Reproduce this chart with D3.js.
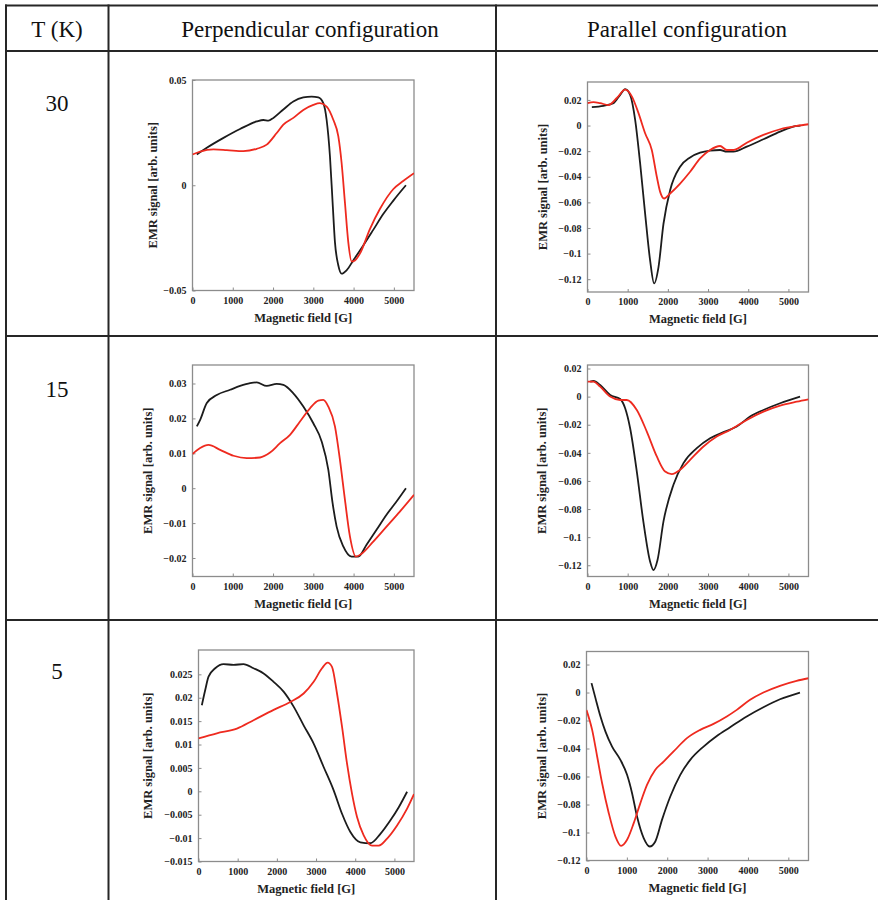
<!DOCTYPE html>
<html>
<head>
<meta charset="utf-8">
<script src="https://cdn.jsdelivr.net/npm/d3@7"></script>
<style>
  html, body { margin: 0; padding: 0; background: #fff; }
  svg { display: block; }
</style>
</head>
<body>
<svg id="chart" width="878" height="900"></svg>
<script>
// ---------------- DATA ----------------
const temperatures = ["30", "15", "5"];
const columnTitles = ["T (K)", "Perpendicular configuration", "Parallel configuration"];
const xTicks = [0, 1000, 2000, 3000, 4000, 5000];
const xLabel = "Magnetic field [G]";
const yLabel = "EMR signal [arb. units]";

// 30 K, perpendicular
const t30PerpBlackX = [107, 355, 770, 1180, 1595, 1760, 1885, 2008, 2256, 2504, 2752, 2959, 3124, 3248, 3331, 3413, 3479, 3537, 3620, 3702, 3826, 3992, 4240, 4488, 4736, 4983, 5300];
const t30PerpBlackY = [0.0146, 0.0178, 0.0225, 0.0267, 0.0303, 0.031, 0.0307, 0.032, 0.036, 0.0398, 0.0417, 0.0421, 0.0417, 0.039, 0.031, 0.0138, -0.0082, -0.027, -0.038, -0.042, -0.0404, -0.0357, -0.0286, -0.0212, -0.0137, -0.0074, 0.0];
const t30PerpRedX = [0, 190, 520, 851, 1264, 1595, 1843, 2091, 2256, 2504, 2752, 3000, 3165, 3331, 3496, 3620, 3702, 3785, 3868, 3950, 4033, 4157, 4405, 4653, 4983, 5231, 5500];
const t30PerpRedY = [0.0146, 0.016, 0.017, 0.0167, 0.0162, 0.0173, 0.0193, 0.0248, 0.0288, 0.032, 0.0358, 0.0382, 0.039, 0.0374, 0.0311, 0.0233, 0.0107, -0.0082, -0.027, -0.0362, -0.0357, -0.0325, -0.0208, -0.0113, -0.0019, 0.002, 0.0057];
const t30PerpYTicks = [-0.05, 0, 0.05];

// 30 K, parallel
const t30ParBlackX = [108, 398, 647, 813, 937, 1061, 1186, 1310, 1434, 1559, 1658, 1766, 1891, 2056, 2305, 2554, 2803, 3051, 3300, 3466, 3632, 3964, 4378, 4793, 5207, 5300];
const t30ParBlackY = [0.0144, 0.0154, 0.0175, 0.024, 0.0285, 0.024, 0.0045, -0.0296, -0.0688, -0.1055, -0.1233, -0.1107, -0.0767, -0.0505, -0.0322, -0.0249, -0.0212, -0.0196, -0.0191, -0.0204, -0.0204, -0.0165, -0.0107, -0.0047, -0.0003, 0.0];
const t30ParRedX = [0, 149, 315, 522, 730, 937, 1103, 1269, 1434, 1600, 1725, 1808, 1907, 2056, 2305, 2554, 2803, 3051, 3300, 3466, 3632, 3964, 4378, 4793, 5207, 5500];
const t30ParRedY = [0.0175, 0.0183, 0.0175, 0.016, 0.0215, 0.028, 0.0228, 0.0097, -0.006, -0.0191, -0.04, -0.0518, -0.057, -0.0531, -0.0453, -0.0361, -0.0257, -0.0191, -0.016, -0.0191, -0.0191, -0.0134, -0.0073, -0.0029, -0.0003, 0.001];
const t30ParYTicks = [-0.12, -0.1, -0.08, -0.06, -0.04, -0.02, 0, 0.02];

// 15 K, perpendicular
const t15PerpBlackX = [107, 190, 355, 603, 934, 1182, 1430, 1595, 1843, 2091, 2256, 2504, 2752, 3000, 3207, 3372, 3479, 3579, 3744, 3950, 4116, 4322, 4570, 4818, 5066, 5300];
const t15PerpBlackY = [0.0177, 0.0196, 0.0244, 0.0267, 0.0282, 0.0293, 0.0301, 0.0303, 0.0293, 0.0299, 0.0296, 0.0272, 0.0234, 0.0186, 0.0134, 0.0053, -0.0043, -0.011, -0.0167, -0.0196, -0.0196, -0.0162, -0.0119, -0.0076, -0.0038, 0.0];
const t15PerpRedX = [0, 190, 397, 686, 1017, 1347, 1678, 1926, 2174, 2421, 2669, 2917, 3124, 3248, 3372, 3537, 3661, 3785, 3909, 4058, 4198, 4488, 4818, 5149, 5500];
const t15PerpRedY = [0.0098, 0.0115, 0.0124, 0.011, 0.0093, 0.0086, 0.0088, 0.0102, 0.0129, 0.0153, 0.0191, 0.0229, 0.0251, 0.0253, 0.0234, 0.0177, 0.0081, -0.0033, -0.0138, -0.0196, -0.0188, -0.0153, -0.011, -0.0067, -0.0019];
const t15PerpYTicks = [-0.02, -0.01, 0, 0.01, 0.02, 0.03];

// 15 K, parallel
const t15ParBlackX = [66, 149, 315, 564, 813, 937, 1061, 1227, 1393, 1559, 1642, 1741, 1891, 2139, 2388, 2720, 3051, 3383, 3715, 4046, 4378, 4793, 5290];
const t15ParBlackY = [0.0107, 0.0111, 0.0083, 0.0012, -0.0017, -0.0083, -0.0225, -0.0533, -0.0895, -0.1175, -0.1235, -0.1165, -0.0888, -0.0627, -0.0473, -0.0367, -0.0296, -0.0253, -0.0213, -0.0142, -0.0095, -0.0047, 0.0];
const t15ParRedX = [0, 149, 315, 564, 813, 978, 1227, 1476, 1725, 1932, 2098, 2305, 2554, 2886, 3217, 3549, 3964, 4378, 4793, 5207, 5500];
const t15ParRedY = [0.0107, 0.0107, 0.0071, 0.0, -0.0024, -0.0024, -0.0095, -0.0249, -0.0426, -0.0533, -0.0551, -0.0521, -0.045, -0.0355, -0.0284, -0.0237, -0.0166, -0.0107, -0.0064, -0.0036, -0.0019];
const t15ParYTicks = [-0.12, -0.1, -0.08, -0.06, -0.04, -0.02, 0, 0.02];

// 5 K, perpendicular
const t5PerpBlackX = [85, 170, 256, 426, 639, 894, 1150, 1405, 1661, 1917, 2172, 2428, 2683, 2939, 3194, 3450, 3663, 3876, 4131, 4387, 4642, 4898, 5111, 5324];
const t5PerpBlackY = [0.0184, 0.0216, 0.0245, 0.0263, 0.0272, 0.027, 0.0272, 0.0263, 0.0252, 0.0234, 0.0213, 0.0181, 0.0141, 0.0102, 0.0052, 0.0002, -0.0048, -0.0087, -0.0109, -0.0111, -0.0091, -0.0062, -0.0034, -0.0001];
const t5PerpRedX = [0, 469, 980, 1405, 1917, 2342, 2683, 2939, 3152, 3296, 3407, 3535, 3663, 3791, 3918, 4046, 4216, 4429, 4600, 4813, 5068, 5324, 5500];
const t5PerpRedY = [0.0113, 0.0124, 0.0134, 0.0152, 0.0174, 0.0191, 0.0209, 0.0234, 0.0263, 0.0275, 0.0266, 0.0209, 0.0138, 0.0059, -0.0005, -0.0055, -0.0094, -0.0116, -0.0116, -0.0101, -0.0073, -0.0037, -0.0006];
const t5PerpYTicks = [-0.015, -0.01, -0.005, 0, 0.005, 0.01, 0.015, 0.02, 0.025];

// 5 K, parallel
const t5ParBlackX = [124, 222, 346, 470, 634, 840, 1005, 1129, 1252, 1417, 1565, 1705, 1870, 2076, 2323, 2570, 2900, 3229, 3558, 3970, 4382, 4794, 5288];
const t5ParBlackY = [0.0067, -0.004, -0.0171, -0.0279, -0.0386, -0.0481, -0.0588, -0.0719, -0.0886, -0.104, -0.11, -0.1064, -0.091, -0.0743, -0.0588, -0.0481, -0.0386, -0.031, -0.0248, -0.0171, -0.0105, -0.0048, 0.0];
const t5ParRedX = [0, 140, 264, 387, 552, 717, 857, 1005, 1170, 1334, 1499, 1705, 1911, 2158, 2488, 2817, 3147, 3476, 3723, 4053, 4382, 4794, 5206, 5500];
const t5ParRedY = [-0.0125, -0.0267, -0.0457, -0.0648, -0.0862, -0.1029, -0.1095, -0.1052, -0.0933, -0.079, -0.066, -0.0552, -0.0493, -0.0421, -0.0326, -0.0267, -0.0224, -0.0171, -0.0124, -0.0052, 0.0, 0.0048, 0.0083, 0.0102];
const t5ParYTicks = [-0.12, -0.1, -0.08, -0.06, -0.04, -0.02, 0, 0.02];

// ---------------- LAYOUT ----------------
const BLACK = "#1c1c1c", RED = "#ee2a1f";
const panels = [
  { bx: t30PerpBlackX, by: t30PerpBlackY, rx: t30PerpRedX, ry: t30PerpRedY, ticks: t30PerpYTicks, yDom: [-0.05, 0.05],
    box: { l: 192.5, r: 414, t: 80, b: 290.5 }, labX: 153 },
  { bx: t30ParBlackX, by: t30ParBlackY, rx: t30ParRedX, ry: t30ParRedY, ticks: t30ParYTicks, yDom: [-0.13, 0.034],
    box: { l: 587.5, r: 808.5, t: 82, b: 292 }, labX: 543 },
  { bx: t15PerpBlackX, by: t15PerpBlackY, rx: t15PerpRedX, ry: t15PerpRedY, ticks: t15PerpYTicks, yDom: [-0.0253, 0.0353],
    box: { l: 192.5, r: 414, t: 365, b: 576.5 }, labX: 148 },
  { bx: t15ParBlackX, by: t15ParBlackY, rx: t15ParRedX, ry: t15ParRedY, ticks: t15ParYTicks, yDom: [-0.128, 0.0225],
    box: { l: 587.5, r: 808.5, t: 365, b: 576.5 }, labX: 542 },
  { bx: t5PerpBlackX, by: t5PerpBlackY, rx: t5PerpRedX, ry: t5PerpRedY, ticks: t5PerpYTicks, yDom: [-0.015, 0.0302],
    box: { l: 198.5, r: 414, t: 650, b: 861.5 }, labX: 148 },
  { bx: t5ParBlackX, by: t5ParBlackY, rx: t5ParRedX, ry: t5ParRedY, ticks: t5ParYTicks, yDom: [-0.12, 0.0293],
    box: { l: 586.5, r: 808.5, t: 651.5, b: 860.5 }, labX: 542 }
];

const svg = d3.select("#chart");
const serif = "'Liberation Serif', 'Times New Roman', 'DejaVu Serif', serif";
const fmt = v => String(v).replace("-", "\u2212");

// ---------------- TABLE ----------------
const tbl = svg.append("g").attr("stroke", "#262626").attr("stroke-width", 2);
[5.5, 51, 336, 620].forEach(y => tbl.append("line").attr("x1", 5).attr("x2", 878).attr("y1", y).attr("y2", y));
[6, 108.5, 496].forEach(x => tbl.append("line").attr("x1", x).attr("x2", x).attr("y1", 4.5).attr("y2", 900));

const headerX = [57, 310, 687];
columnTitles.forEach((t, i) => {
  svg.append("text").attr("x", headerX[i]).attr("y", 37).attr("text-anchor", "middle")
    .attr("font-family", serif).attr("font-size", 23).attr("fill", "#111").text(t);
});
const rowY = [111, 397, 679];
temperatures.forEach((t, i) => {
  svg.append("text").attr("x", 57).attr("y", rowY[i]).attr("text-anchor", "middle")
    .attr("font-family", serif).attr("font-size", 23).attr("fill", "#111").text(t);
});

// ---------------- PANELS ----------------
panels.forEach(p => {
  const { l, r, t, b } = p.box;
  const x = d3.scaleLinear().domain([0, 5500]).range([l, r]);
  const y = d3.scaleLinear().domain(p.yDom).range([b, t]);
  const g = svg.append("g");

  // frame
  g.append("rect").attr("x", l).attr("y", t).attr("width", r - l).attr("height", b - t)
    .attr("fill", "none").attr("stroke", "#8c8c8c").attr("stroke-width", 1.3);

  // axes
  const xAxis = d3.axisBottom(x).tickValues(xTicks).tickSize(-3).tickPadding(6).tickFormat(d3.format("d"));
  const yAxis = d3.axisLeft(y).tickValues(p.ticks).tickSize(-3).tickPadding(6).tickFormat(fmt);
  const gx = g.append("g").attr("transform", `translate(0,${b})`).call(xAxis);
  const gy = g.append("g").attr("transform", `translate(${l},0)`).call(yAxis);
  [gx, gy].forEach(a => {
    a.select(".domain").remove();
    a.selectAll(".tick line").attr("stroke", "#8c8c8c");
    a.selectAll(".tick text").attr("font-family", serif).attr("font-weight", "bold")
      .attr("font-size", 10).attr("fill", "#222");
  });

  // axis labels
  g.append("text").attr("x", (l + r) / 2).attr("y", b + 31).attr("text-anchor", "middle")
    .attr("font-family", serif).attr("font-weight", "bold").attr("font-size", 12.5).attr("fill", "#222")
    .text(xLabel);
  g.append("text").attr("transform", `translate(${p.labX},${(t + b) / 2}) rotate(-90)`)
    .attr("text-anchor", "middle").attr("dy", "0.35em")
    .attr("font-family", serif).attr("font-weight", "bold").attr("font-size", 12.5).attr("fill", "#222")
    .text(yLabel);

  // curves
  const line = d3.line().x(d => x(d[0])).y(d => y(d[1])).curve(d3.curveMonotoneX);
  const clipId = "clip" + Math.round(l) + "_" + Math.round(t);
  svg.append("clipPath").attr("id", clipId).append("rect")
    .attr("x", l).attr("y", t).attr("width", r - l).attr("height", b - t);
  const blk = p.bx.map((v, i) => [v, p.by[i]]);
  const red = p.rx.map((v, i) => [v, p.ry[i]]);
  g.append("path").datum(blk).attr("d", line).attr("fill", "none")
    .attr("stroke", BLACK).attr("stroke-width", 1.8).attr("clip-path", `url(#${clipId})`);
  g.append("path").datum(red).attr("d", line).attr("fill", "none")
    .attr("stroke", RED).attr("stroke-width", 1.8).attr("clip-path", `url(#${clipId})`);
});
</script>
</body>
</html>
